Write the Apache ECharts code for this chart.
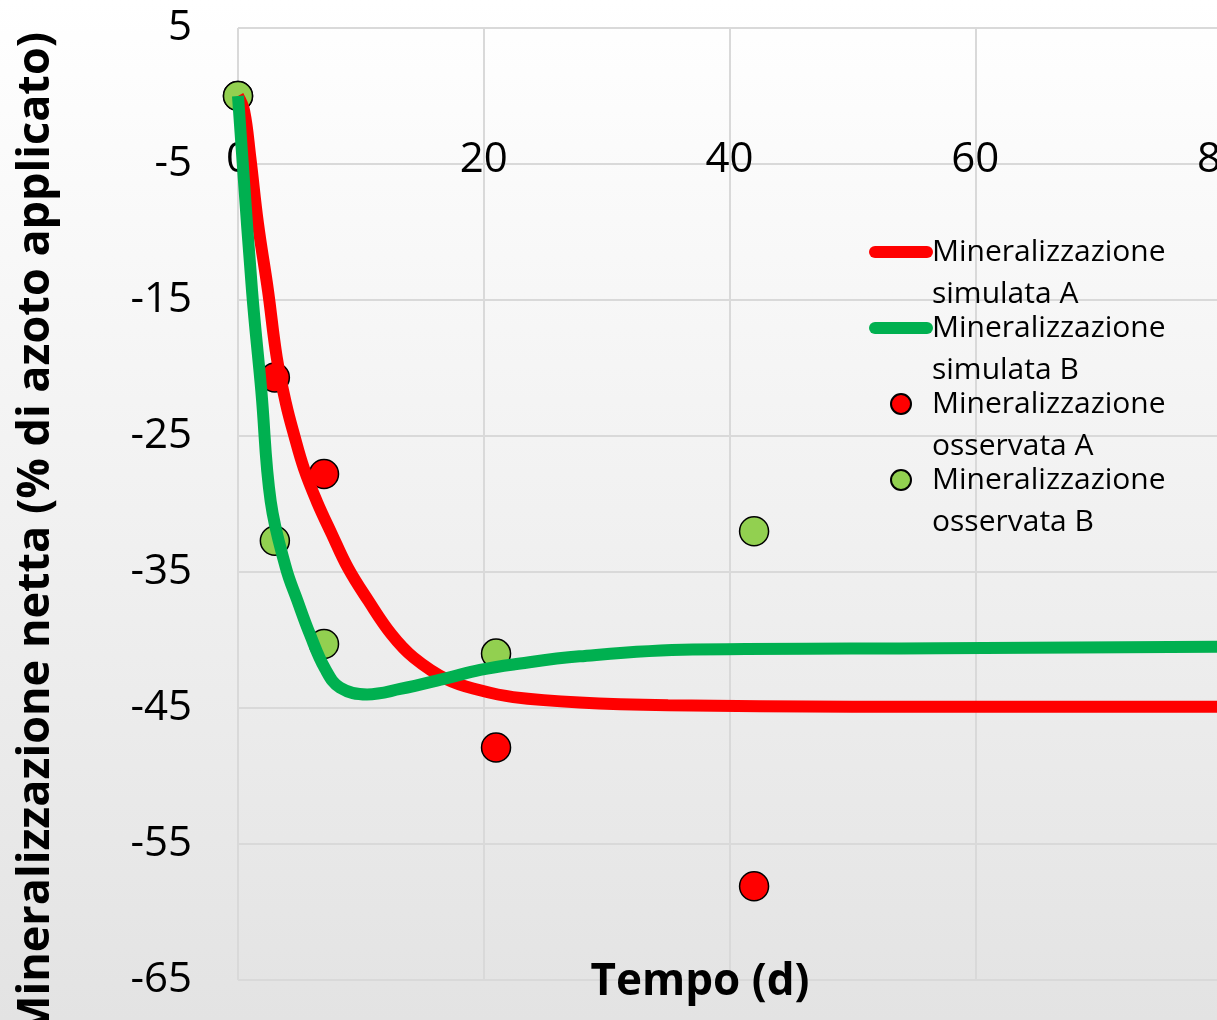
<!DOCTYPE html>
<html>
<head>
<meta charset="utf-8">
<style>
  html, body { margin: 0; padding: 0; }
  #chart { width: 1217px; height: 1020px; }
</style>
<script src="https://cdn.jsdelivr.net/npm/echarts@6/dist/echarts.min.js"></script>
</head>
<body>
<div id="chart"></div>
<script>
// series names (legend order)
const nameSimA = 'Mineralizzazione simulata A';
const nameSimB = 'Mineralizzazione simulata B';
const nameObsA = 'Mineralizzazione osservata A';
const nameObsB = 'Mineralizzazione osservata B';

// simulated curves: [tempo (d), % N]
const simulatedA = [
  [0, 0], [0.5, -1.1], [1.0, -4.5], [1.63, -9.4], [2.44, -14.3], [3.15, -19.2],
  [3.9, -22.6], [4.56, -24.9], [5.37, -27.4], [6.41, -29.8], [7.63, -32.2],
  [8.95, -34.7], [10.6, -37.1], [12.5, -39.6], [14.3, -41.3], [17, -42.9],
  [19.7, -43.7], [22.4, -44.2], [27.8, -44.6], [35, -44.8], [50, -44.9], [80, -44.9]
];
const simulatedB = [
  [0, 0], [1.14, -14.3], [1.9, -21.7], [2.66, -29.8],
  [3.9, -34.7], [4.83, -37.1], [5.86, -39.6], [7.08, -42.1], [8.3, -43.5],
  [10.5, -44.0], [13.2, -43.6], [17.0, -42.8], [19.7, -42.2], [22.4, -41.8],
  [27.8, -41.2], [37, -40.7], [57, -40.6], [80, -40.5]
];

// observed points
const observedA = [[0, 0], [3, -20.7], [7, -27.8], [21, -47.9], [42, -58.1]];
const observedB = [[0, 0], [3, -32.7], [7, -40.3], [21, -41.0], [42, -32.0]];

// axes
const xMin = 0, xMax = 80, xStep = 20;
const yMin = -65, yMax = 5, yStep = 10;
const xTitle = 'Tempo (d)';
const yTitle = 'Mineralizzazione netta (% di azoto applicato)';

const font = '"Open Sans", sans-serif';
const gridColor = '#d9d9d9';

const chart = echarts.init(document.getElementById('chart'));

// x axis sits on y = 0: distance from bottom of plot, in px
const plotTop = 28, plotBottom = 980;
const zeroOffset = (plotBottom - plotTop) * (0 - yMin) / (yMax - yMin);

const option = {
  animation: false,
  backgroundColor: new echarts.graphic.LinearGradient(0, 0, 0, 1, [
    { offset: 0, color: '#ffffff' },
    { offset: 1, color: '#e3e3e3' }
  ]),
  grid: {
    left: 238, right: -4, top: plotTop, bottom: 1020 - plotBottom,
    containLabel: false,
    outerBoundsMode: 'none'
  },
  xAxis: {
    type: 'value',
    min: xMin,
    max: xMax,
    interval: xStep,
    position: 'bottom',
    offset: -zeroOffset,
    axisLine: { show: false, onZero: false },
    axisTick: { show: false },
    axisLabel: { margin: 43, fontSize: 42, fontFamily: font, color: '#000' },
    splitLine: { show: true, lineStyle: { color: gridColor, width: 2 } }
  },
  yAxis: {
    type: 'value',
    min: yMin,
    max: yMax,
    interval: yStep,
    axisLine: { show: false },
    axisTick: { show: false },
    axisLabel: { margin: 46, fontSize: 42, fontFamily: font, color: '#000' },
    splitLine: { show: true, lineStyle: { color: gridColor, width: 2 } }
  },
  legend: {
    orient: 'vertical',
    left: 869,
    top: 189,
    padding: 0,
    itemWidth: 52,
    itemHeight: 20,
    itemGap: -50,
    data: [
      { name: nameSimA, itemStyle: { opacity: 0 } },
      { name: nameSimB, itemStyle: { opacity: 0 } },
      nameObsA,
      nameObsB
    ],
    formatter: function (name) {
      return '\n' + name.replace(' ', '\n');
    },
    textStyle: {
      fontFamily: font,
      fontSize: 30,
      lineHeight: 42,
      color: '#000'
    },
    lineStyle: { width: 12, cap: 'round' }
  },
  graphic: [
    {
      type: 'text',
      z: 50,
      x: 36,
      y: 32,
      rotation: Math.PI / 2,
      style: {
        text: yTitle,
        font: 'bold 45px "Open Sans", sans-serif',
        fill: '#000',
        align: 'right',
        verticalAlign: 'middle'
      }
    },
    {
      type: 'text',
      z: 50,
      x: 700,
      y: 982,
      style: {
        text: xTitle,
        font: 'bold 44px "Open Sans", sans-serif',
        fill: '#000',
        align: 'center',
        verticalAlign: 'middle'
      }
    }
  ],
  series: [
    {
      name: nameSimA,
      type: 'line',
      data: simulatedA,
      smooth: 0.4,
      symbol: 'none',
      lineStyle: { color: '#ff0000', width: 12 },
      itemStyle: { color: '#ff0000' }
    },
    {
      name: nameSimB,
      type: 'line',
      data: simulatedB,
      smooth: 0.4,
      symbol: 'none',
      lineStyle: { color: '#00b050', width: 12 },
      itemStyle: { color: '#00b050' }
    },
    {
      name: nameObsA,
      type: 'scatter',
      data: observedA,
      symbol: 'circle',
      symbolSize: 29,
      itemStyle: { color: '#ff0000', borderColor: '#000', borderWidth: 1.5, opacity: 1 }
    },
    {
      name: nameObsB,
      type: 'scatter',
      data: observedB,
      symbol: 'circle',
      symbolSize: 29,
      itemStyle: { color: '#92d050', borderColor: '#000', borderWidth: 1.5, opacity: 1 }
    }
  ]
};

chart.setOption(option);
</script>
</body>
</html>
